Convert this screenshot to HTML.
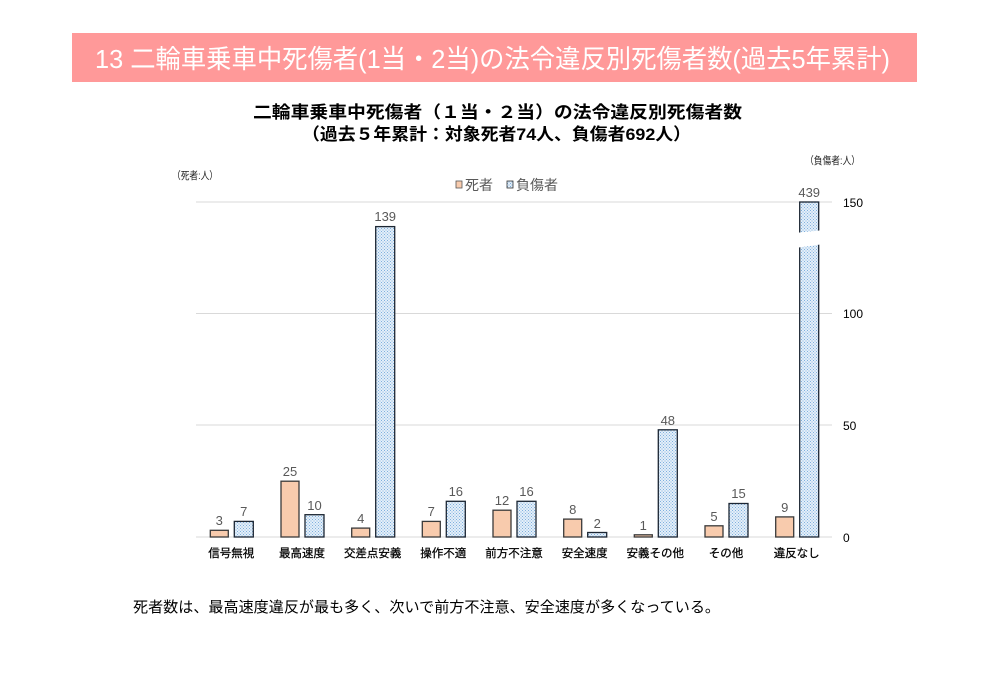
<!DOCTYPE html>
<html><head><meta charset="utf-8"><style>
html,body{margin:0;padding:0;background:#fff;}
svg{display:block;}
text{font-family:"Liberation Sans","Noto Sans CJK JP",sans-serif;}
</style></head><body>
<svg width="990" height="700" viewBox="0 0 990 700" xmlns="http://www.w3.org/2000/svg">
<defs>
<pattern id="dots" width="3" height="3" patternUnits="userSpaceOnUse">
<rect width="3" height="3" fill="#e4eff9"/>
<rect x="0" y="0" width="1" height="1" fill="#7fb0de"/>
<rect x="1.5" y="1.5" width="1" height="1" fill="#7fb0de"/>
</pattern>
</defs>
<rect x="72" y="33" width="845" height="49" fill="#ff9999"/>
<text x="95" y="68" font-size="26" fill="#fff" textLength="795" lengthAdjust="spacingAndGlyphs">13  二輪車乗車中死傷者(1当・2当)の法令違反別死傷者数(過去5年累計)</text>
<text x="253" y="118" font-size="17" font-weight="bold" fill="#000" textLength="489" lengthAdjust="spacingAndGlyphs">二輪車乗車中死傷者（１当・２当）の法令違反別死傷者数</text>
<text x="302" y="140" font-size="17" font-weight="bold" fill="#000" textLength="389" lengthAdjust="spacingAndGlyphs">（過去５年累計：対象死者74人、負傷者692人）</text>
<text x="172" y="179" font-size="10.5" fill="#222" textLength="46" lengthAdjust="spacingAndGlyphs">（死者:人）</text>
<text x="805" y="164" font-size="10.5" fill="#222" textLength="55" lengthAdjust="spacingAndGlyphs">（負傷者:人）</text>
<rect x="456" y="181" width="6" height="7" fill="#f8cbad" stroke="#555" stroke-width="0.8"/>
<text x="465" y="190" font-size="14" fill="#595959">死者</text>
<rect x="507" y="181" width="6" height="7" fill="url(#dots)" stroke="#333" stroke-width="0.8"/>
<text x="516" y="190" font-size="14" fill="#595959">負傷者</text>
<g stroke="#d9d9d9" stroke-width="1">
<line x1="196" y1="202" x2="832" y2="202"/>
<line x1="196" y1="313.5" x2="832" y2="313.5"/>
<line x1="196" y1="425" x2="832" y2="425"/>
<line x1="196" y1="537" x2="832" y2="537"/>
</g>
<g font-size="12" fill="#000">
<text x="843" y="207">150</text>
<text x="843" y="318">100</text>
<text x="843" y="430">50</text>
<text x="843" y="542">0</text>
</g>
<g stroke-width="1.3">
<rect x="210.3" y="530.3" width="18" height="6.7" fill="#f8cbad" stroke="#3a3a3a"/>
<rect x="281" y="481.2" width="18" height="55.8" fill="#f8cbad" stroke="#3a3a3a"/>
<rect x="351.7" y="528.1" width="18" height="8.9" fill="#f8cbad" stroke="#3a3a3a"/>
<rect x="422.3" y="521.4" width="18" height="15.6" fill="#f8cbad" stroke="#3a3a3a"/>
<rect x="493" y="510.2" width="18" height="26.8" fill="#f8cbad" stroke="#3a3a3a"/>
<rect x="563.7" y="519.1" width="18" height="17.9" fill="#f8cbad" stroke="#3a3a3a"/>
<rect x="634.3" y="534.8" width="18" height="2.2" fill="#f8cbad" stroke="#3a3a3a"/>
<rect x="705" y="525.8" width="18" height="11.2" fill="#f8cbad" stroke="#3a3a3a"/>
<rect x="775.7" y="516.9" width="18" height="20.1" fill="#f8cbad" stroke="#3a3a3a"/>
<rect x="234.3" y="521.4" width="19" height="15.6" fill="url(#dots)" stroke="#1c2633"/>
<rect x="305" y="514.7" width="19" height="22.3" fill="url(#dots)" stroke="#1c2633"/>
<rect x="375.7" y="226.6" width="19" height="310.4" fill="url(#dots)" stroke="#1c2633"/>
<rect x="446.3" y="501.3" width="19" height="35.7" fill="url(#dots)" stroke="#1c2633"/>
<rect x="517" y="501.3" width="19" height="35.7" fill="url(#dots)" stroke="#1c2633"/>
<rect x="587.7" y="532.5" width="19" height="4.5" fill="url(#dots)" stroke="#1c2633"/>
<rect x="658.3" y="429.8" width="19" height="107.2" fill="url(#dots)" stroke="#1c2633"/>
<rect x="729" y="503.5" width="19" height="33.5" fill="url(#dots)" stroke="#1c2633"/>
<rect x="799.7" y="202" width="19" height="335" fill="url(#dots)" stroke="#1c2633"/>
</g>
<polygon points="795,233 824,230 824,244 795,248" fill="#fff"/>
<g font-size="13" fill="#595959" text-anchor="middle">
<text x="219.3" y="525">3</text>
<text x="290" y="476">25</text>
<text x="360.7" y="523">4</text>
<text x="431.3" y="516">7</text>
<text x="502" y="505">12</text>
<text x="572.7" y="514">8</text>
<text x="643.3" y="530">1</text>
<text x="714" y="521">5</text>
<text x="784.7" y="512">9</text>
<text x="243.8" y="516">7</text>
<text x="314.5" y="510">10</text>
<text x="385.2" y="221">139</text>
<text x="455.8" y="496">16</text>
<text x="526.5" y="496">16</text>
<text x="597.2" y="528">2</text>
<text x="667.8" y="425">48</text>
<text x="738.5" y="498">15</text>
<text x="809.2" y="197">439</text>
</g>
<g font-size="11.5" fill="#000" text-anchor="middle" stroke="#000" stroke-width="0.25">
<text x="231.3" y="557">信号無視</text>
<text x="302" y="557">最高速度</text>
<text x="372.7" y="557">交差点安義</text>
<text x="443.3" y="557">操作不適</text>
<text x="514" y="557">前方不注意</text>
<text x="584.7" y="557">安全速度</text>
<text x="655.3" y="557">安義その他</text>
<text x="726" y="557">その他</text>
<text x="796.7" y="557">違反なし</text>
</g>
<text x="133" y="612" font-size="15" fill="#000" textLength="587" lengthAdjust="spacingAndGlyphs">死者数は、最高速度違反が最も多く、次いで前方不注意、安全速度が多くなっている。</text>
</svg>
</body></html>
